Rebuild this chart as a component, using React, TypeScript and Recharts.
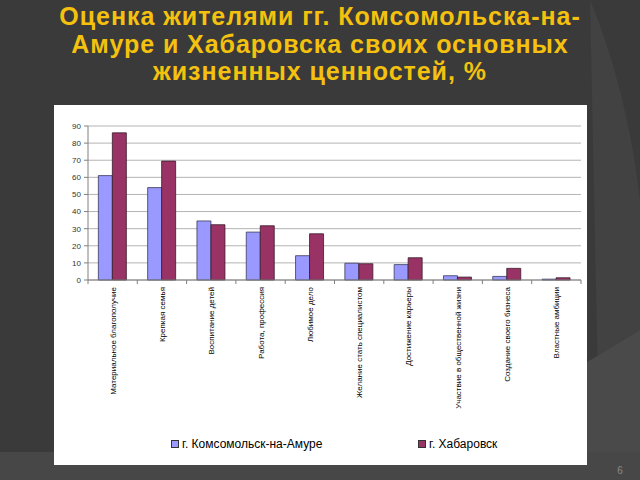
import React from "react";
import { BarChart, Bar, XAxis, YAxis, CartesianGrid, Legend } from "recharts";

const categories = [
  "Материальное благополучие",
  "Крепкая семья",
  "Воспитание детей",
  "Работа, профессия",
  "Любимое дело",
  "Желание стать специалистом",
  "Достижение карьеры",
  "Участвие в общественной жизни",
  "Создание своего бизнеса",
  "Властные амбиции",
];
const komsomolsk = [61, 54, 34.5, 28, 14.2, 9.8, 9, 2.5, 2.1, 0.5];
const khabarovsk = [86, 69.5, 32.3, 31.7, 27, 9.5, 13, 1.7, 6.8, 1.3];
const yTicks = [0, 10, 20, 30, 40, 50, 60, 70, 80, 90];
const seriesNames = ["г. Комсомольск-на-Амуре", "г. Хабаровск"];
const titleLines = [
  "Оценка жителями гг. Комсомольска-на-",
  "Амуре и Хабаровска своих основных",
  "жизненных ценностей, %",
];

const data = categories.map((c, i) => ({
  name: c,
  a: komsomolsk[i],
  b: khabarovsk[i],
}));

const FONT = "'Liberation Sans', Arial, sans-serif";
const BLUE = "#9999FF";
const PURPLE = "#993366";
const AXIS = "#808080";

const XTick = (props: any) => {
  const { x, y, payload, index } = props;
  const off = payload && payload.offset ? payload.offset : 24.65;
  const last = index === categories.length - 1;
  return (
    <g>
      <line x1={x - off} x2={x - off} y1={y} y2={y + 4} stroke={AXIS} strokeWidth={1} />
      {last && <line x1={x + off} x2={x + off} y1={y} y2={y + 4} stroke={AXIS} strokeWidth={1} />}
      <text
        x={x}
        y={y + 7}
        dy={3}
        transform={`rotate(-90, ${x}, ${y + 7})`}
        textAnchor="end"
        fontSize={8}
        fontFamily={FONT}
        fill="#000"
      >
        {payload.value}
      </text>
    </g>
  );
};

const LegendContent = () => (
  <div style={{ position: "relative", height: 30, fontFamily: FONT, fontSize: 12, color: "#000" }}>
    <div style={{ position: "absolute", left: 117, top: 2, display: "flex", alignItems: "center", whiteSpace: "nowrap", lineHeight: "14px" }}>
      <span style={{ display: "inline-block", width: 6, height: 6, background: BLUE, border: "1px solid #333", marginRight: 3 }} />
      {seriesNames[0]}
    </div>
    <div style={{ position: "absolute", left: 364, top: 2, display: "flex", alignItems: "center", whiteSpace: "nowrap", lineHeight: "14px" }}>
      <span style={{ display: "inline-block", width: 6, height: 6, background: PURPLE, border: "1px solid #333", marginRight: 3 }} />
      {seriesNames[1]}
    </div>
  </div>
);

export default function App() {
  return (
    <div style={{ position: "absolute", left: 0, top: 0, width: 640, height: 480, overflow: "hidden", background: "#3a3a3a" }}>
      <svg width={640} height={480} style={{ position: "absolute", left: 0, top: 0 }}>
        <path d="M 590 0 C 640 120, 650 260, 640 300 L 640 480 L 600 480 Z" fill="#424242" />
        <path d="M 640 330 C 560 380, 480 420, 420 480 L 640 480 Z" fill="#4a4a4a" />
        <rect x={0} y={452} width={640} height={28} fill="#474747" />
        <text x={620} y={474} fontSize={10} fontFamily={FONT} fill="#8a8a8a" textAnchor="middle">6</text>
      </svg>
      <div
        style={{
          position: "absolute",
          left: 0,
          top: 3,
          width: 640,
          textAlign: "center",
          fontFamily: FONT,
          fontWeight: "bold",
          fontSize: 25,
          letterSpacing: "0.95px",
          lineHeight: "27.6px",
          color: "#F4C10F",
        }}
      >
        {titleLines.map((l, i) => (
          <div key={i}>{l}</div>
        ))}
      </div>
      <div style={{ position: "absolute", left: 54, top: 105, width: 533, height: 360, background: "#ffffff" }}>
        <BarChart
          width={533}
          height={360}
          data={data}
          margin={{ top: 21, right: 6, left: 0, bottom: 0 }}
          barCategoryGap="21%"
          barGap={0}
        >
          <CartesianGrid vertical={false} stroke="#b4b4b4" strokeWidth={1} />
          <YAxis
            width={34}
            domain={[0, 90]}
            ticks={yTicks}
            interval={0}
            axisLine={{ stroke: AXIS }}
            tickLine={{ stroke: AXIS }}
            tickSize={4}
            tickMargin={3}
            tick={{ fontSize: 8, fontFamily: FONT, fill: "#333" }}
          />
          <XAxis
            dataKey="name"
            height={155}
            interval={0}
            axisLine={{ stroke: AXIS }}
            tickLine={false}
            tickSize={0}
            tickMargin={0}
            tick={<XTick />}
          />
          <Legend verticalAlign="bottom" content={<LegendContent />} />
          <Bar dataKey="a" name={seriesNames[0]} fill={BLUE} stroke="#3a3a5a" strokeWidth={0.8} isAnimationActive={false} />
          <Bar dataKey="b" name={seriesNames[1]} fill={PURPLE} stroke="#3a1a2a" strokeWidth={0.8} isAnimationActive={false} />
        </BarChart>
      </div>
    </div>
  );
}
